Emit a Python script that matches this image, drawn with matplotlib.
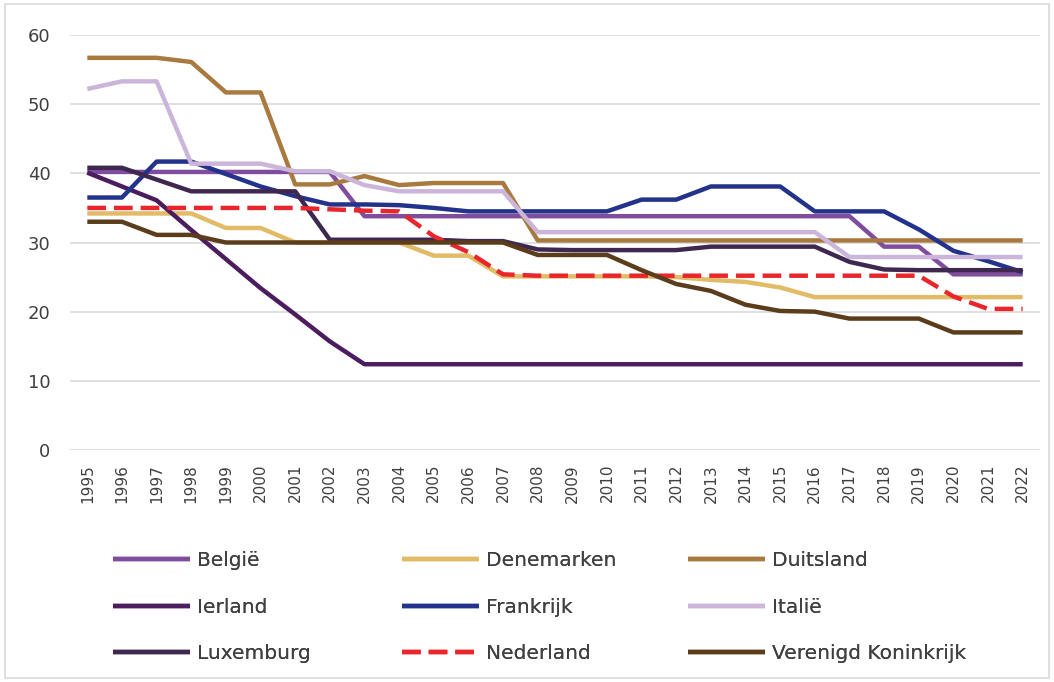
import matplotlib.pyplot as plt
from matplotlib.patches import Rectangle

years = list(range(1995, 2023))

belgie = [40.2] * 8 + [33.8] * 15 + [29.4, 29.4] + [25.4] * 3
denemarken = [34.2, 34.2, 34.2, 34.2, 32.1, 32.1, 30.0, 30.0, 30.0, 30.0,
              28.1, 28.1, 25.1, 25.1, 25.1, 25.1, 25.1, 25.0, 24.6, 24.3,
              23.5, 22.1, 22.1, 22.1, 22.1, 22.1, 22.1, 22.1]
duitsland = [56.7, 56.7, 56.7, 56.1, 51.7, 51.7, 38.4, 38.4, 39.6, 38.3,
             38.6, 38.6, 38.6] + [30.3] * 15
ierland = [40.1, 38.1, 36.1, 31.8, 27.6, 23.4, 19.6, 15.7, 12.4] + [12.4] * 19
frankrijk = [36.5, 36.5, 41.7, 41.7, 39.9, 38.1, 36.7, 35.5, 35.5, 35.4,
             35.0, 34.5, 34.5, 34.5, 34.5, 34.5, 36.2, 36.2, 38.1, 38.1,
             38.1, 34.5, 34.5, 34.5, 31.9, 28.8, 27.3, 25.7]
italie = [52.2, 53.3, 53.3, 41.4, 41.4, 41.4, 40.3, 40.3, 38.3, 37.4,
          37.4, 37.4, 37.4] + [31.5] * 9 + [27.9] * 6
luxemburg = [40.8, 40.8, 39.1, 37.4, 37.4, 37.4, 37.4, 30.4, 30.4, 30.4,
             30.4, 30.2, 30.2, 29.0, 28.9, 28.9, 28.9, 28.9, 29.4, 29.4,
             29.4, 29.4, 27.2, 26.1, 26.0, 26.0, 26.0, 26.0]
nederland = [35.0] * 7 + [34.8, 34.6, 34.5, 30.9, 28.6, 25.4] + [25.2] * 12 + [22.2, 20.4, 20.4]
vk = [33.0, 33.0, 31.1, 31.1, 30.0] + [30.0] * 8 + [28.2, 28.2, 28.2, 26.0, 24.0,
                                                  23.0, 21.0, 20.1, 20.0, 19.0,
                                                  19.0, 19.0, 17.0, 17.0, 17.0]

series = [
    ("België", belgie, "#7f4c9e", "-"),
    ("Denemarken", denemarken, "#e2bb66", "-"),
    ("Duitsland", duitsland, "#a97a3f", "-"),
    ("Ierland", ierland, "#4b1d5e", "-"),
    ("Frankrijk", frankrijk, "#23328a", "-"),
    ("Italië", italie, "#cbb5da", "-"),
    ("Luxemburg", luxemburg, "#3e2850", "-"),
    ("Nederland", nederland, "#e8262b", (0, (4.2, 1.8))),
    ("Verenigd Koninkrijk", vk, "#5b3d1c", "-"),
]

fig = plt.figure(figsize=(10.54, 6.82), dpi=100)
fig.patches.append(Rectangle((0.005, 0.006), 0.99, 0.988, transform=fig.transFigure,
                             fill=False, edgecolor="#d9d9d9", linewidth=1.2))
ax = fig.add_axes([70 / 1054, 1 - 450 / 682, 970 / 1054, 415 / 682])

x = list(range(len(years)))
lines = {}
for name, vals, color, ls in series:
    ln, = ax.plot(x, vals, color=color, linestyle=ls, linewidth=3.2,
                  solid_joinstyle="round", solid_capstyle="butt", label=name)
    lines[name] = ln

ax.set_xlim(-0.5, len(years) - 0.5)
ax.set_ylim(0, 60)
ax.set_yticks(range(0, 61, 10))
ax.set_xticks(x)
ax.set_xticklabels([str(y) for y in years], rotation=90)
ax.tick_params(axis="x", length=0, pad=10, labelsize=11, labelcolor="#404040")
ax.tick_params(axis="y", length=0, pad=14, labelsize=13, labelcolor="#404040")
ax.grid(axis="y", color="#d9d9d9", linewidth=1.2)
ax.set_axisbelow(True)
for s in ax.spines.values():
    s.set_visible(False)

legend_font = {"family": ["Liberation Sans Narrow", "DejaVu Sans"], "size": 14.5}
columns = [
    (["België", "Ierland", "Luxemburg"], 113),
    (["Denemarken", "Frankrijk", "Nederland"], 402),
    (["Duitsland", "Italië", "Verenigd Koninkrijk"], 688),
]
for names, xpix in columns:
    leg = fig.legend([lines[n] for n in names], names, loc="upper left",
                     bbox_to_anchor=(xpix / 1054, 1 - 551 / 682),
                     frameon=False, prop=legend_font, handlelength=3.8,
                     handletextpad=0.35, labelspacing=1.37, borderpad=0,
                     borderaxespad=0, labelcolor="#404040")
    fig.add_artist(leg)

fig.savefig("out.png", dpi=100)
